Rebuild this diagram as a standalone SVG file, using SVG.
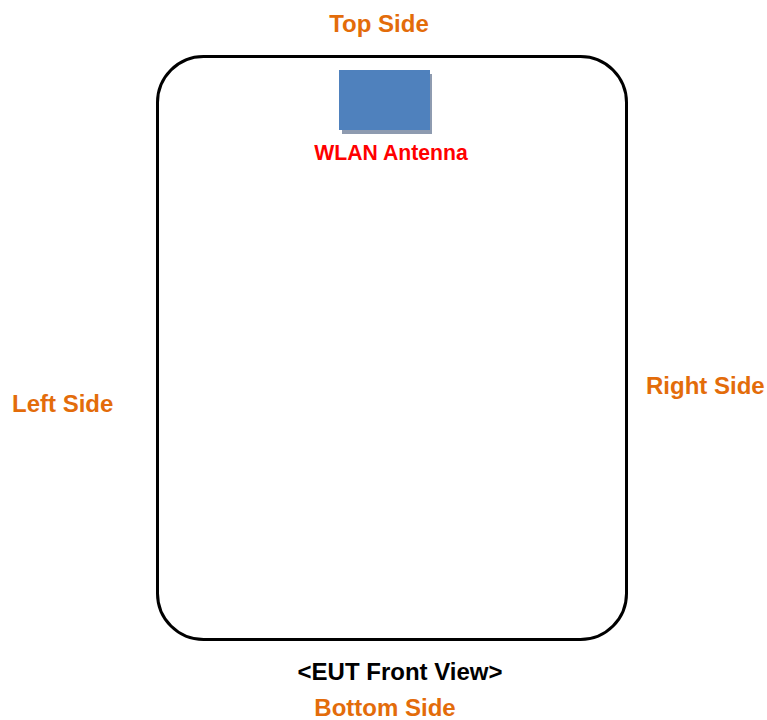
<svg xmlns="http://www.w3.org/2000/svg" width="767" height="720" viewBox="0 0 767 720">
<style>
.side{font-family:"Liberation Sans",Arial,sans-serif;font-weight:bold;font-size:24px;fill:#E36C0A}
.lbl{font-family:"Liberation Sans",Arial,sans-serif;font-weight:bold}
</style>
<rect width="767" height="720" fill="#ffffff"/>
<g id="eut">
<rect x="157.5" y="56.5" width="469" height="583" rx="46" ry="46" fill="none" stroke="#000" stroke-width="3"/>
</g>
<g id="antenna">
<rect x="342" y="74" width="90" height="60" fill="#8E9BB0"/>
<rect x="339" y="70" width="91" height="60" fill="#4F81BD"/>
<text class="lbl" x="391" y="160" text-anchor="middle" font-size="21.2" fill="#FF0000">WLAN Antenna</text>
</g>
<g id="labels">
<text class="side" x="379" y="32" text-anchor="middle">Top Side</text>
<text class="side" x="12" y="412">Left Side</text>
<text class="side" x="646" y="394">Right Side</text>
<text class="lbl" x="400" y="680" text-anchor="middle" font-size="24" fill="#000">&lt;EUT Front View&gt;</text>
<text class="side" x="385" y="716" text-anchor="middle">Bottom Side</text>
</g>
<g id="connectors"/>
</svg>
